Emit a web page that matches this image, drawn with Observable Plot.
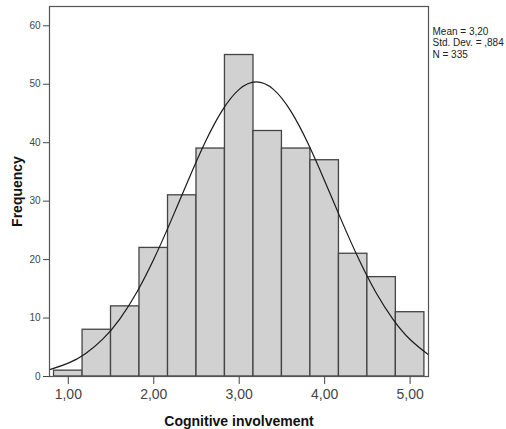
<!DOCTYPE html>
<html>
<head>
<meta charset="utf-8">
<script src="https://cdn.jsdelivr.net/npm/d3@7"></script>
<script src="https://cdn.jsdelivr.net/npm/@observablehq/plot@0.6"></script>
<style>
  html, body { margin: 0; padding: 0; background: #fff; }
  #chart svg { display: block; }
</style>
</head>
<body>
<div id="chart"></div>
<script>
// Histogram bins (bin width 1/3)
const binLow  = [0.833, 1.167, 1.5, 1.833, 2.167, 2.5, 2.833, 3.167, 3.5, 3.833, 4.167, 4.5, 4.833];
const binHigh = [1.167, 1.5, 1.833, 2.167, 2.5, 2.833, 3.167, 3.5, 3.833, 4.167, 4.5, 4.833, 5.167];
const counts  = [1, 8, 12, 22, 31, 39, 55, 42, 39, 37, 21, 17, 11];

// Normal curve points
const curveX = [0.78, 0.8, 1.0, 1.2, 1.4, 1.6, 1.8, 2.0, 2.2, 2.4, 2.6, 2.8, 3.0, 3.2, 3.4, 3.6, 3.8, 4.0, 4.2, 4.4, 4.6, 4.8, 5.0, 5.2, 5.215];
const curveY = [1.19, 1.26, 2.28, 3.90, 6.34, 9.79, 14.38, 20.06, 26.58, 33.46, 40.03, 45.49, 49.12, 50.39, 49.12, 45.49, 40.03, 33.46, 26.58, 20.06, 14.38, 9.79, 6.34, 3.90, 3.75];

// Tick values and labels
const xTicks = [1, 2, 3, 4, 5];
const yTicks = [0, 10, 20, 30, 40, 50, 60];
const statLabels = ["Mean = ", "Std. Dev. = ", "N = "];
const statValues = ["3,20", ",884", "335"];
const xTitle = "Cognitive involvement";
const yTitle = "Frequency";

const bins = binLow.map((lo, i) => ({lo, hi: binHigh[i], count: counts[i]}));
const curve = curveX.map((x, i) => ({x, y: curveY[i]}));
const statsText = statLabels.map((l, i) => l + statValues[i]).join("\n");

const chart = Plot.plot({
  width: 506,
  height: 429,
  marginLeft: 49,
  marginRight: 78,
  marginTop: 6,
  marginBottom: 53,
  style: {fontFamily: "'Liberation Sans', Arial, sans-serif", background: "#fff"},
  x: {domain: [0.78, 5.215]},
  y: {domain: [0, 63.3]},
  marks: [
    Plot.rectY(bins, {x1: "lo", x2: "hi", y: "count", fill: "#d1d1d1", stroke: "#444", strokeWidth: 1.3}),
    Plot.line(curve, {x: "x", y: "y", curve: "natural", stroke: "#1a1a1a", strokeWidth: 1.2, clip: true}),
    Plot.frame({stroke: "#555", strokeWidth: 1.2}),
    Plot.axisX({ticks: xTicks, tickFormat: d => d.toFixed(2).replace(".", ","), tickSize: 8, tickPadding: 5, fontSize: 14, color: "#444", label: null}),
    Plot.axisY({ticks: yTicks, tickSize: 6, tickPadding: 3, fontSize: 10, color: "#444", label: null}),
    Plot.text([xTitle], {frameAnchor: "bottom", text: d => d, dy: 49, lineAnchor: "bottom", fontSize: 14, fontWeight: "bold", fill: "#111"}),
    Plot.text([yTitle], {frameAnchor: "left", text: d => d, dx: -28, rotate: -90, lineAnchor: "bottom", textAnchor: "middle", fontSize: 14, fontWeight: "bold", fill: "#111"}),
    Plot.text([statsText], {frameAnchor: "top-right", text: d => d, dx: 4, dy: 20, textAnchor: "start", lineAnchor: "top", lineHeight: 1.15, fontSize: 10, fill: "#222"})
  ]
});
document.getElementById("chart").append(chart);
</script>
</body>
</html>
